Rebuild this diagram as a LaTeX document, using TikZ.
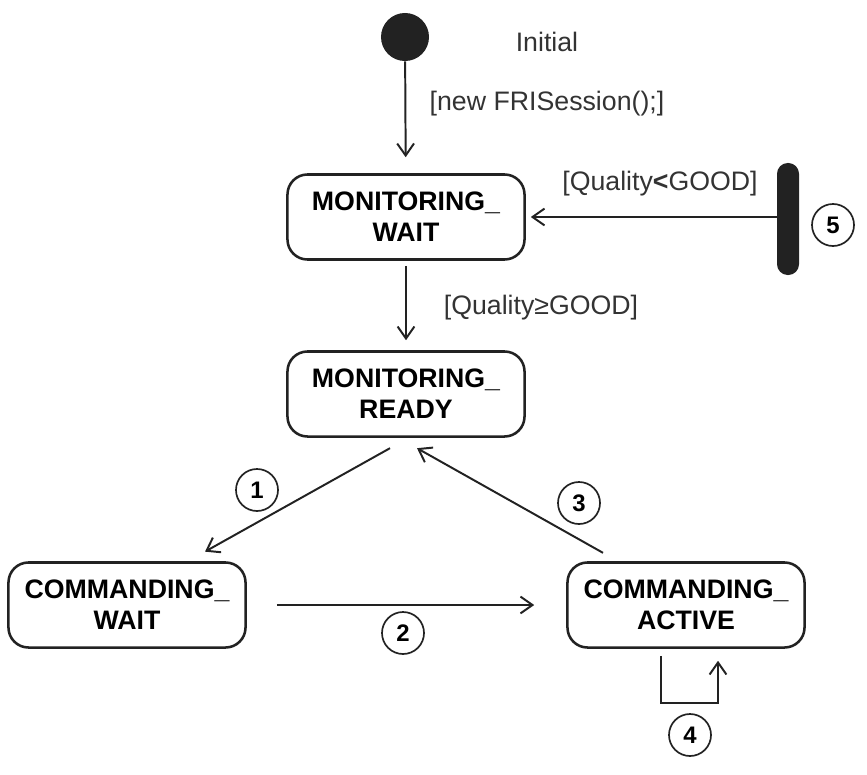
\documentclass[tikz,border=0pt]{standalone}
\usepackage{fontspec}
\setmainfont{Liberation Sans}
\usetikzlibrary{arrows.meta}
\definecolor{inkdark}{HTML}{222222}
\definecolor{labelgray}{HTML}{333333}

\begin{document}
\begin{tikzpicture}[x=0.025cm, y=-0.025cm,
  state/.style={draw=inkdark, line width=1.8pt, rounded corners=0.5cm,
    minimum width=5.925cm, minimum height=2.125cm, align=center,
    font=\fontsize{19}{22}\selectfont\bfseries},
  guard/.style={text=labelgray, font=\fontsize{19}{22}\selectfont},
  num/.style={circle, draw=inkdark, line width=1.2pt, minimum size=1.05cm,
    inner sep=0pt, font=\fontsize{17}{20}\selectfont\bfseries},
  trans/.style={draw=inkdark, line width=1.4pt,
    -{Straight Barb[length=0.3cm, width=0.42cm, line width=1.4pt]}}]
  \useasboundingbox (0,0) rectangle (867,775);

  \node[circle, fill=inkdark, minimum size=1.2cm, inner sep=0pt] (init) at (405,37) {};
  \node[guard] (initlbl) at (547,42) {Initial};
  \node (mw) [state] at (406,217) {MONITORING\_\\WAIT};
  \node (mr) [state] at (406,394) {MONITORING\_\\READY};
  \node (cw) [state] at (127,605) {COMMANDING\_\\WAIT};
  \node (ca) [state] at (686,605) {COMMANDING\_\\ACTIVE};
  \node[fill=inkdark, rounded corners=0.27cm, minimum width=0.55cm,
    minimum height=2.8cm, inner sep=0pt] (bar) at (788,219) {};

  \draw[trans, shorten >=0.4cm] (init) -- (mw);
  \node[guard] (newlbl) at (547,104) {[new FRISession();]};
  \draw[trans, shorten <=0.125cm, shorten >=0.25cm] (mw) -- (mr);
  \node[guard] (goodlbl) at (541,308) {[Quality≥GOOD]};
  \draw[trans, shorten >=0.125cm] (bar.west |- mw) -- (mw.east);
  \node[guard] (badlbl) at (660,184) {[Quality\textbf{<}GOOD]};

  \draw[trans] ([xshift=-0.4cm, yshift=-0.26cm]mr.south)
    -- ([xshift=1.95cm, yshift=0.24cm]cw.north);
  \draw[trans, shorten <=0.75cm, shorten >=0.8cm] (cw) -- (ca);
  \draw[trans] ([xshift=-2.075cm, yshift=0.21cm]ca.north)
    -- ([xshift=0.275cm, yshift=-0.26cm]mr.south);
  % self transition below the active state
  \draw[trans] ([xshift=-0.625cm, yshift=-0.175cm]ca.south) -- ++(0,47)
    -| ([xshift=0.8cm, yshift=-0.3cm]ca.south);

  \node[num] (n1) at (257,490) {1};
  \node[num] (n2) at (403,633) {2};
  \node[num] (n3) at (579,503) {3};
  \node[num] (n4) at (690,735) {4};
  \node[num] (n5) at (833,225) {5};
\end{tikzpicture}
\end{document}
